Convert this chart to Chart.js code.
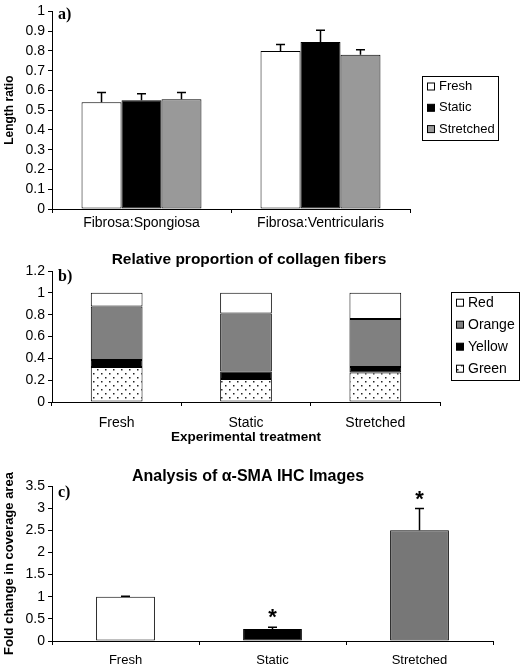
<!DOCTYPE html>
<html>
<head>
<meta charset="utf-8">
<script src="https://cdn.jsdelivr.net/npm/chart.js@4"></script>
<style>
body{margin:0;background:#fff;width:520px;height:668px;position:relative;overflow:hidden;}
canvas{position:absolute;left:0;}
</style>
</head>
<body>
<canvas id="lengthChart" width="520" height="232" style="top:0px"></canvas>
<canvas id="collagenChart" width="520" height="205" style="top:240px"></canvas>
<canvas id="smaChart" width="520" height="218" style="top:450px"></canvas>
<script>
// panel a) length ratios
const lengthCategories = ["Fibrosa:Spongiosa", "Fibrosa:Ventricularis"];
const lengthFresh = [0.54, 0.80];
const lengthFreshErr = [0.05, 0.032];
const lengthStatic = [0.55, 0.845];
const lengthStaticErr = [0.033, 0.06];
const lengthStretched = [0.555, 0.78];
const lengthStretchedErr = [0.035, 0.026];

// panel b) collagen fibers
const collagenCategories = ["Fresh", "Static", "Stretched"];
const collagenGreen = [0.32, 0.21, 0.27];
const collagenYellow = [0.065, 0.07, 0.05];
const collagenOrange = [0.49, 0.53, 0.44];
const collagenRed = [0.125, 0.19, 0.24];

// panel c) alpha-SMA
const smaCategories = ["Fresh", "Static", "Stretched"];
const smaValues = [1.0, 0.27, 2.5];
const smaErrors = [0.01, 0.04, 0.49];
const smaSignificant = [false, true, true];

const FONT = "'Liberation Sans', Arial, sans-serif";
Chart.defaults.font.family = FONT;
Chart.defaults.color = "#000";
Chart.defaults.animation = false;

// dotted fill for "Green"
function dotPattern(){
    const c = document.createElement("canvas");
    c.width = 8; c.height = 8;
    const g = c.getContext("2d");
    g.fillStyle = "#fff";
    g.fillRect(0, 0, 8, 8);
    g.fillStyle = "#222";
    g.fillRect(1, 1, 1.5, 1.5);
    g.fillRect(5, 5, 1.5, 1.5);
    return g.createPattern(c, "repeat");
}
const dots = dotPattern();

const errorBars = {
    id: "errorBars",
    afterDatasetsDraw(chart){
        const ctx = chart.ctx;
        const y = chart.scales.y;
        chart.data.datasets.forEach((ds, i) => {
            if(!ds.errors) return;
            chart.getDatasetMeta(i).data.forEach((bar, j) => {
                const top = y.getPixelForValue(ds.data[j] + ds.errors[j]);
                ctx.save();
                ctx.strokeStyle = "#000";
                ctx.lineWidth = 1.5;
                ctx.beginPath();
                ctx.moveTo(bar.x, bar.y);
                ctx.lineTo(bar.x, top);
                ctx.moveTo(bar.x - 4.5, top);
                ctx.lineTo(bar.x + 4.5, top);
                ctx.stroke();
                if(ds.stars && ds.stars[j]){
                    ctx.fillStyle = "#000";
                    ctx.font = "bold 22px " + FONT;
                    ctx.textAlign = "center";
                    ctx.textBaseline = "alphabetic";
                    ctx.fillText("*", bar.x, top - 3);
                }
                ctx.restore();
            });
        });
    }
};

const boxLegend = {
    id: "boxLegend",
    afterDraw(chart, args, opts){
        if(!opts.items) return;
        const ctx = chart.ctx;
        ctx.save();
        ctx.strokeStyle = "#000";
        ctx.lineWidth = 1;
        ctx.strokeRect(opts.x + 0.5, opts.y + 0.5, opts.w, opts.h);
        ctx.font = opts.fontSize + "px " + FONT;
        ctx.textBaseline = "middle";
        ctx.textAlign = "left";
        opts.items.forEach((it, k) => {
            const cy = opts.firstY + k * opts.rowH;
            ctx.fillStyle = it.color;
            ctx.fillRect(opts.x + 5, cy - 3.5, 7, 7);
            ctx.strokeRect(opts.x + 5.5, cy - 3.5, 7, 7);
            ctx.fillStyle = "#000";
            ctx.fillText(it.label, opts.x + 17, cy);
        });
        ctx.restore();
    }
};

const panelText = {
    id: "panelText",
    afterDraw(chart, args, opts){
        const ctx = chart.ctx;
        ctx.save();
        ctx.fillStyle = "#000";
        ctx.textBaseline = "middle";
        if(opts.tag){
            ctx.font = "bold 16px 'Liberation Serif', 'Times New Roman', serif";
            ctx.textAlign = "left";
            ctx.fillText(opts.tag, 58, opts.tagY);
        }
        if(opts.title){
            ctx.font = "bold " + opts.titleSize + "px " + FONT;
            ctx.textAlign = "center";
            ctx.fillText(opts.title, opts.titleX, opts.titleY);
        }
        ctx.restore();
    }
};

function yAxis(max, step, title, titleSize){
    return {
        min: 0, max: max,
        ticks: {
            stepSize: step, autoSkip: false, font: {size: 14}, padding: 3, color: "#000",
            callback: v => String(Math.round(v * 100) / 100)
        },
        grid: {drawOnChartArea: false, tickLength: 4, color: "#000"},
        border: {color: "#000", width: 1},
        title: {display: !!title, text: title, font: {size: titleSize, weight: "bold"}, padding: {top: 2, bottom: 0}},
        afterFit(scale){ scale.width = 52; }
    };
}
function xAxis(height, fontSize, pad, title){
    return {
        stacked: false,
        ticks: {font: {size: fontSize}, padding: pad, color: "#000", maxRotation: 0},
        grid: {drawOnChartArea: false, tickLength: 4, color: "#000", offset: true},
        border: {color: "#000", width: 1},
        title: {display: !!title, text: title, font: {size: 13.5, weight: "bold"}, padding: {top: 0, bottom: 0}},
        afterFit(scale){ scale.height = height; }
    };
}

// a)
new Chart(document.getElementById("lengthChart"), {
    type: "bar",
    data: {
        labels: lengthCategories,
        datasets: [
            {label: "Fresh", data: lengthFresh, errors: lengthFreshErr, backgroundColor: "#fff"},
            {label: "Static", data: lengthStatic, errors: lengthStaticErr, backgroundColor: "#000"},
            {label: "Stretched", data: lengthStretched, errors: lengthStretchedErr, backgroundColor: "#999"}
        ].map(d => Object.assign(d, {borderColor: "#000", borderWidth: 1, borderSkipped: false, categoryPercentage: 0.67, barPercentage: 1}))
    },
    options: {
        responsive: false,
        layout: {padding: {top: 10, right: 110, bottom: 0, left: 0}},
        scales: {x: xAxis(23, 14, 2), y: yAxis(1, 0.1, "Length ratio", 12)},
        plugins: {
            legend: {display: false}, tooltip: {enabled: false},
            boxLegend: {x: 422, y: 76, w: 76, h: 64, firstY: 86.5, rowH: 21.3, fontSize: 13,
                items: [{label: "Fresh", color: "#fff"}, {label: "Static", color: "#000"}, {label: "Stretched", color: "#999"}]},
            panelText: {tag: "a)", tagY: 15}
        }
    },
    plugins: [errorBars, boxLegend, panelText]
});

// b)
const collagenSets = [
    {label: "Green", data: collagenGreen, backgroundColor: dots},
    {label: "Yellow", data: collagenYellow, backgroundColor: "#000"},
    {label: "Orange", data: collagenOrange, backgroundColor: "#808080"},
    {label: "Red", data: collagenRed, backgroundColor: "#fff"}
];
const bx = xAxis(43, 14, 9, "Experimental treatment");
bx.stacked = true;
const by = yAxis(1.2, 0.2, "", 12);
by.stacked = true;
new Chart(document.getElementById("collagenChart"), {
    type: "bar",
    data: {
        labels: collagenCategories,
        datasets: collagenSets.map(d => Object.assign({}, d, {borderColor: "#000", borderWidth: 1, borderSkipped: false, categoryPercentage: 0.4, barPercentage: 1}))
    },
    options: {
        responsive: false,
        layout: {padding: {top: 31, right: 80, bottom: 0, left: 0}},
        scales: {x: bx, y: by},
        plugins: {
            legend: {display: false}, tooltip: {enabled: false},
            boxLegend: {x: 451, y: 52, w: 68, h: 88, firstY: 62.7, rowH: 22, fontSize: 14,
                items: collagenSets.slice().reverse().map(d => ({label: d.label, color: d.backgroundColor}))},
            panelText: {tag: "b)", tagY: 37, title: "Relative proportion of collagen fibers", titleSize: 15.5, titleX: 249, titleY: 20}
        }
    },
    plugins: [boxLegend, panelText]
});

// c)
new Chart(document.getElementById("smaChart"), {
    type: "bar",
    data: {
        labels: smaCategories,
        datasets: [{
            label: "α-SMA", data: smaValues, errors: smaErrors, stars: smaSignificant,
            backgroundColor: ["#fff", "#000", "#777"],
            borderColor: "#000", borderWidth: 1, borderSkipped: false,
            categoryPercentage: 0.4, barPercentage: 1
        }]
    },
    options: {
        responsive: false,
        layout: {padding: {top: 36, right: 27, bottom: 0, left: 0}},
        scales: {x: xAxis(27, 13, 8), y: yAxis(3.5, 0.5, "Fold change in coverage area", 13)},
        plugins: {
            legend: {display: false}, tooltip: {enabled: false},
            panelText: {tag: "c)", tagY: 43, title: "Analysis of α-SMA IHC Images", titleSize: 16, titleX: 248, titleY: 27}
        }
    },
    plugins: [errorBars, panelText]
});
</script>
</body>
</html>
